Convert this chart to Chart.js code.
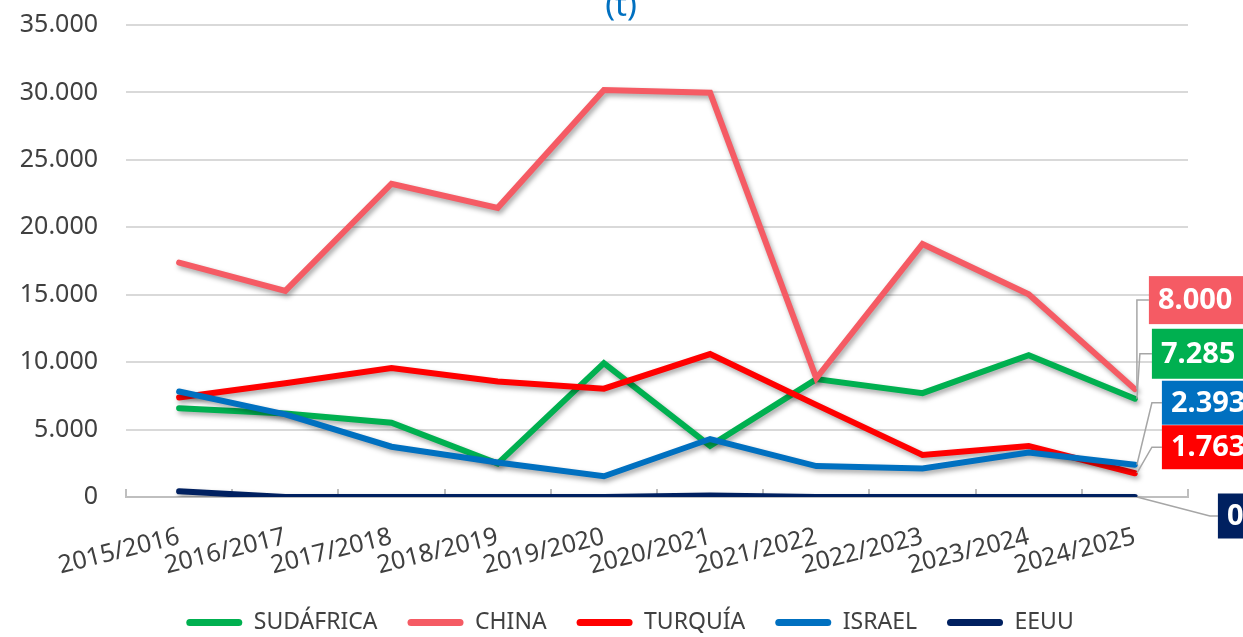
<!DOCTYPE html>
<html>
<head>
<meta charset="utf-8">
<script src="https://cdn.jsdelivr.net/npm/chart.js@4.4.1/dist/chart.umd.min.js"></script>
<style>
  html, body { margin: 0; padding: 0; background: #fff; }
</style>
</head>
<body>
<canvas id="chart" width="1243" height="637"></canvas>
<script>
// Campaigns (x categories)
const campaigns = ['2015/2016', '2016/2017', '2017/2018', '2018/2019', '2019/2020',
                   '2020/2021', '2021/2022', '2022/2023', '2023/2024', '2024/2025'];

// Series, tonnes
const countries = ['SUDÁFRICA', 'CHINA', 'TURQUÍA', 'ISRAEL', 'EEUU'];
const sudafrica = [6580, 6200, 5510, 2480, 9930, 3800, 8740, 7700, 10510, 7285];
const china     = [17380, 15280, 23230, 21440, 30180, 29980, 8800, 18760, 15030, 8000];
const turquia   = [7380, 8440, 9560, 8570, 8030, 10600, 6830, 3110, 3780, 1763];
const israel    = [7820, 6130, 3730, 2560, 1540, 4300, 2290, 2110, 3300, 2393];
const eeuu      = [420, 0, 0, 0, 0, 120, 0, 0, 0, 0];

// Y axis ticks
const yTickValues = [0, 5000, 10000, 15000, 20000, 25000, 30000, 35000];

const colors = ['#00B050', '#F55B64', '#FF0000', '#0070C0', '#002060'];

// label box placement relative to the last point: box centre dy, elbow dx, box left dx, box height
const endLabelStyle = [
  { dy: -45, elbow: 5,  box: 17, h: 50 },
  { dy: -89, elbow: 2,  box: 14, h: 48 },
  { dy: -26, elbow: 17, box: 27, h: 44 },
  { dy: -62, elbow: 17, box: 27, h: 44 },
  { dy: 19,  elbow: 75, box: 83, h: 45 }
];

const FONT = '"Noto Sans", "DejaVu Sans", sans-serif';

function fmt(v) {
  return String(Math.round(v)).replace(/\B(?=(\d{3})+(?!\d))/g, '.');
}

const series = [sudafrica, china, turquia, israel, eeuu];

// Excel-like soft shadow under each line
const lineShadow = {
  id: 'lineShadow',
  beforeDatasetDraw(chart) {
    const c = chart.ctx;
    c.save();
    c.shadowColor = 'rgba(0,0,0,0.35)';
    c.shadowBlur = 5;
    c.shadowOffsetX = 2;
    c.shadowOffsetY = 3;
  },
  afterDatasetDraw(chart) {
    chart.ctx.restore();
  }
};

// value boxes with leader lines at the last campaign
const endLabels = {
  id: 'endLabels',
  afterDatasetsDraw(chart) {
    const ctx = chart.ctx;
    chart.data.datasets.forEach((ds, i) => {
      const meta = chart.getDatasetMeta(i);
      const pt = meta.data[meta.data.length - 1];
      const st = endLabelStyle[i];
      const cy = pt.y + st.dy;
      const ex = pt.x + st.elbow;
      const bx = pt.x + st.box;
      ctx.save();
      ctx.strokeStyle = '#a6a6a6';
      ctx.lineWidth = 1.5;
      ctx.beginPath();
      ctx.moveTo(pt.x + 2, pt.y);
      ctx.lineTo(ex, cy);
      ctx.lineTo(bx, cy);
      ctx.stroke();
      const text = fmt(ds.data[ds.data.length - 1]);
      ctx.font = 'bold 29px ' + FONT;
      const w = ctx.measureText(text).width + 20;
      ctx.fillStyle = ds.borderColor;
      ctx.fillRect(bx, cy - st.h / 2, w, st.h);
      ctx.fillStyle = '#fff';
      ctx.textAlign = 'left';
      ctx.textBaseline = 'middle';
      ctx.fillText(text, bx + 9, cy + 1);
      ctx.restore();
    });
  }
};

// clipped title remnant at the top
const topTitle = {
  id: 'topTitle',
  afterDraw(chart) {
    const ctx = chart.ctx;
    ctx.save();
    ctx.font = '33px ' + FONT;
    ctx.fillStyle = '#0070C0';
    ctx.textAlign = 'center';
    ctx.textBaseline = 'alphabetic';
    ctx.fillText('(t)', 621, 16);
    ctx.restore();
  }
};

Chart.defaults.font.family = FONT;
Chart.defaults.color = '#404040';

new Chart(document.getElementById('chart'), {
  type: 'line',
  data: {
    labels: campaigns,
    datasets: countries.map((name, i) => ({
      label: name,
      data: series[i],
      borderColor: colors[i],
      backgroundColor: colors[i],
      borderWidth: 6,
      borderCapStyle: 'round',
      borderJoinStyle: 'miter',
      tension: 0,
      pointRadius: 0,
      fill: false,
      order: countries.length - i
    }))
  },
  options: {
    responsive: false,
    animation: false,
    layout: { padding: { left: 0, right: -17, top: 25, bottom: -7 } },
    plugins: {
      tooltip: { enabled: false },
      legend: {
        position: 'bottom',
        labels: {
          boxWidth: 56,
          boxHeight: 7,
          useBorderRadius: true,
          borderRadius: 3.5,
          padding: 30,
          color: '#404040',
          font: { size: 23 },
          sort: (a, b) => a.datasetIndex - b.datasetIndex,
          generateLabels: (chart) =>
            Chart.defaults.plugins.legend.labels.generateLabels(chart)
              .map(l => ({ ...l, lineWidth: 0 }))
        }
      }
    },
    scales: {
      x: {
        offset: true,
        grid: { offset: true, drawOnChartArea: false, drawTicks: true, tickLength: -8,
                color: '#bfbfbf', lineWidth: 2 },
        border: { display: true, color: '#bfbfbf', width: 2 },
        ticks: { color: '#404040', font: { size: 25 }, minRotation: 14, maxRotation: 14,
                 padding: 33, autoSkip: false },
        afterFit: s => {
          s.height = 84;
          s.paddingLeft = 0;
          s.paddingRight = 0;
          // rotated labels reach into the legend band; don't clip them to the axis box
          s._computeLabelArea = () => null;
        }
      },
      y: {
        min: 0,
        max: 35000,
        afterBuildTicks: s => { s.ticks = yTickValues.map(v => ({ value: v })); },
        ticks: { padding: 28, color: '#404040', font: { size: 25 }, callback: v => fmt(v) },
        grid: { color: '#d9d9d9', lineWidth: 2, drawTicks: false },
        border: { display: false },
        afterFit: s => { s.width = 126; s.paddingTop = 0; s.paddingBottom = 0; }
      },
      // empty right-hand axis that only reserves room for the value boxes
      yRight: {
        position: 'right',
        display: true,
        ticks: { display: false },
        grid: { display: false },
        border: { display: false },
        afterFit: s => { s.width = 72; s.paddingTop = 0; s.paddingBottom = 0; }
      }
    }
  },
  plugins: [lineShadow, endLabels, topTitle]
});
</script>
</body>
</html>
